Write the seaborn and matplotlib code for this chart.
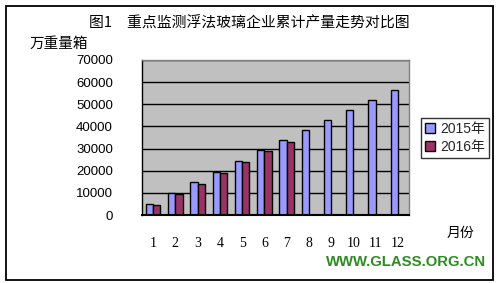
import matplotlib
matplotlib.use("Agg")
import matplotlib.pyplot as plt
import seaborn as sns
import pandas as pd
import numpy as np
from matplotlib.patches import Rectangle, Patch

months = [1, 2, 3, 4, 5, 6, 7, 8, 9, 10, 11, 12]
month_labels = ["1", "2", "3", "4", "5", "6", "7", "8", "9", "10", "11", "12"]
values_2015 = [4800, 9800, 14760, 19280, 24250, 29200, 33730, 38250, 42770, 47280, 51800, 56300]
values_2016 = [4380, 9350, 13860, 18830, 23800, 28770, 32830, np.nan, np.nan, np.nan, np.nan, np.nan]
series = ["2015年", "2016年"]
y_ticks = [0, 10000, 20000, 30000, 40000, 50000, 60000, 70000]

sns.set_theme(style="white")
plt.rcParams['font.family'] = ['Noto Sans CJK SC', 'DejaVu Sans']

df = pd.DataFrame({
    "month": month_labels * 2,
    "value": values_2015 + values_2016,
    "series": [series[0]] * 12 + [series[1]] * 12,
})

W, H = 498, 283
fig = plt.figure(figsize=(W / 100, H / 100), dpi=100)
fig.patch.set_facecolor("white")
ax = fig.add_axes([142 / W, 1 - 215 / H, (409 - 142) / W, (215 - 60) / H])

palette = {series[0]: "#9999FF", series[1]: "#993366"}
sns.barplot(data=df, x="month", y="value", hue="series", order=month_labels,
            hue_order=series, palette=palette, width=0.66, ax=ax,
            edgecolor="black", linewidth=1.0, saturation=1, legend=False)

ax.set_facecolor("#C0C0C0")
ax.set_xlim(-0.5, 11.5)
ax.set_ylim(0, 70000)
ax.set_yticks(y_ticks)
ax.set_yticklabels([str(v) for v in y_ticks], fontsize=9.5, family=['Liberation Sans'])
ax.yaxis.grid(True, color="black", linewidth=1.0)
ax.set_axisbelow(True)
ax.tick_params(axis="y", length=0, pad=21, colors="black")
ax.set_xticks(range(12))
ax.set_xticklabels(month_labels, fontsize=10, family=['Liberation Serif'])
ax.tick_params(axis="x", length=0, pad=16, colors="black")
ax.set_xticks(np.arange(-0.5, 12.0, 1.0), minor=True)
ax.tick_params(axis="x", which="minor", length=3, width=1, color="black", direction="out")
ax.set_xlabel("")
ax.set_ylabel("")
for side in ["top", "right"]:
    ax.spines[side].set_color("#808080")
    ax.spines[side].set_linewidth(1.0)
ax.spines["left"].set_color("black")
ax.spines["bottom"].set_color("black")
ax.spines["left"].set_linewidth(1.0)
ax.spines["bottom"].set_linewidth(1.5)

# legend
handles = [Patch(facecolor=palette[s], edgecolor="black", label=s) for s in series]
leg = fig.legend(handles=handles, loc="upper left",
                 bbox_to_anchor=(421 / W, 1 - 118 / H), fontsize=10,
                 frameon=True, fancybox=False, handlelength=0.7, handleheight=0.7,
                 handletextpad=0.35, borderpad=0.3, labelspacing=0.25, borderaxespad=0)
leg.get_frame().set_edgecolor("black")
leg.get_frame().set_linewidth(1.0)
for t in leg.get_texts():
    t.set_family(['Liberation Sans', 'Noto Sans CJK SC'])

# texts
fig.text(89 / W, 1 - 23 / H, "图1　重点监测浮法玻璃企业累计产量走势对比图", fontsize=10.7,
         ha="left", va="center", color="black")
fig.text(30 / W, 1 - 44 / H, "万重量箱", fontsize=10.5, ha="left", va="center", color="black")
fig.text(447 / W, 1 - 233 / H, "月份", fontsize=10, ha="left", va="center", color="black")
fig.text(486 / W, 1 - 262 / H, "WWW.GLASS.ORG.CN", fontsize=10.7, fontweight="bold",
         family=['Liberation Sans'], ha="right", va="center", color="#2E8B22")

# figure border
fig.patches.append(Rectangle((5.5 / W, 1 - 280 / H), (493 - 5.5) / W, (280 - 6) / H,
                             transform=fig.transFigure, fill=False, edgecolor="black",
                             linewidth=1.3))

fig.savefig("out.png", dpi=100)
